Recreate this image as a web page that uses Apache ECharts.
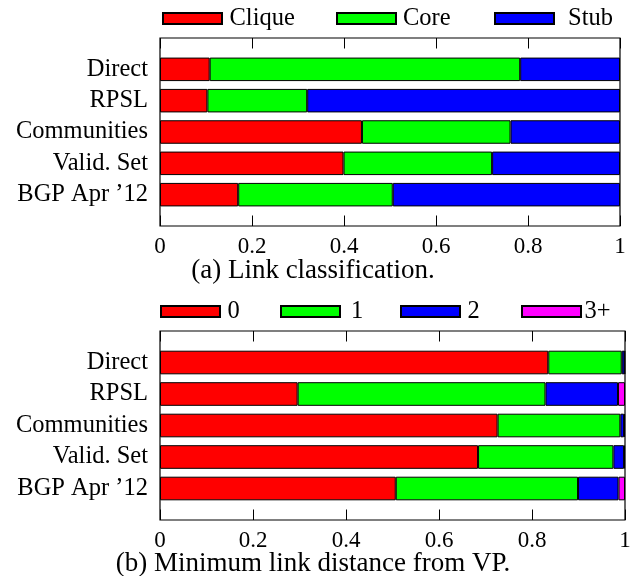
<!DOCTYPE html>
<html>
<head>
<meta charset="utf-8">
<script src="https://cdn.jsdelivr.net/npm/echarts@6/dist/echarts.min.js"></script>
<style>
  html, body { margin: 0; padding: 0; background: #fff; }
  #chart { width: 635px; height: 576px; }
</style>
</head>
<body>
<div id="chart"></div>
<script>
// ---- data ----
const categories = ['Direct', 'RPSL', 'Communities', 'Valid. Set', 'BGP Apr \u201912'];
const xTicks = [0, 0.2, 0.4, 0.6, 0.8, 1];

// (a) Link classification (segment fractions)
const clique = [0.108, 0.103, 0.439, 0.399, 0.170];
const core   = [0.675, 0.217, 0.323, 0.323, 0.336];
const stub   = [0.217, 0.680, 0.238, 0.278, 0.494];

// (b) Minimum link distance from VP (segment fractions)
const dist0  = [0.835, 0.296, 0.726, 0.684, 0.507];
const dist1  = [0.158, 0.533, 0.264, 0.291, 0.392];
const dist2  = [0.006, 0.156, 0.008, 0.023, 0.087];
const dist3p = [0.001, 0.015, 0.002, 0.002, 0.014];

const captionA = '(a) Link classification.';
const captionB = '(b) Minimum link distance from VP.';

// ---- build ----
const FONT = 'Liberation Serif';
const padCats = [''].concat(categories, ['']);
const pad = arr => [null].concat(arr, [null]);

function xAxisPair(gridIndex) {
  const base = {
    type: 'value', gridIndex: gridIndex,
    min: xTicks[0], max: xTicks[xTicks.length - 1],
    interval: xTicks[1] - xTicks[0],
    splitLine: { show: false },
    axisLine: { show: false },
    axisTick: { show: true, inside: true, length: 10.5, lineStyle: { color: '#000', width: 1 } }
  };
  return [
    Object.assign({}, base, {
      position: 'bottom',
      axisLabel: { show: true, color: '#000', fontFamily: FONT, fontSize: 23, margin: 9 }
    }),
    Object.assign({}, base, {
      position: 'top',
      axisLabel: { show: false }
    })
  ];
}

function yAxisFor(gridIndex) {
  return {
    type: 'category', gridIndex: gridIndex, data: padCats, inverse: true,
    boundaryGap: false,
    axisLine: { show: false },
    axisTick: { show: false },
    splitLine: { show: false },
    axisLabel: { color: '#000', fontFamily: FONT, fontSize: 24.5, margin: 12, interval: 0 }
  };
}

function barSeries(name, values, color, xi, yi, stack) {
  return {
    name: name, type: 'bar', stack: stack,
    xAxisIndex: xi, yAxisIndex: yi,
    data: pad(values), barWidth: '75%',
    itemStyle: { color: color, borderColor: '#000', borderWidth: 1 },
    emphasis: { disabled: true }
  };
}

function legendItem(name, left, top, gap) {
  return {
    data: [name], left: left, top: top, padding: 0,
    icon: 'rect', itemWidth: 59, itemHeight: 11,
    selectedMode: false,
    textStyle: { color: '#000', fontFamily: FONT, fontSize: 24.5, padding: [0, 0, 0, gap - 5] }
  };
}

const option = {
  animation: false,
  backgroundColor: '#fff',
  grid: [
    { left: 160, top: 38, width: 460, height: 188, show: true, borderColor: '#000', borderWidth: 1.2, backgroundColor: 'transparent' },
    { left: 160, top: 331, width: 465, height: 189, show: true, borderColor: '#000', borderWidth: 1.2, backgroundColor: 'transparent' }
  ],
  xAxis: xAxisPair(0).concat(xAxisPair(1)),
  yAxis: [yAxisFor(0), yAxisFor(1)],
  legend: [
    legendItem('Clique', 162, 6, 7.5),
    legendItem('Core', 336, 6, 7),
    legendItem('Stub', 494, 6, 14),
    legendItem('0', 160, 299, 7.5),
    legendItem('1', 280, 299, 11),
    legendItem('2', 400, 299, 7.5),
    legendItem('3+', 521, 299, 3.5)
  ],
  title: [
    { text: captionA, left: 313, top: 257.5, textAlign: 'center', padding: 0,
      textStyle: { color: '#000', fontFamily: FONT, fontSize: 27, fontWeight: 'normal' } },
    { text: captionB, left: 313, top: 550.5, textAlign: 'center', padding: 0,
      textStyle: { color: '#000', fontFamily: FONT, fontSize: 27, fontWeight: 'normal' } }
  ],
  series: [
    barSeries('Clique', clique, '#ff0000', 0, 0, 'a'),
    barSeries('Core',   core,   '#00ff00', 0, 0, 'a'),
    barSeries('Stub',   stub,   '#0000ff', 0, 0, 'a'),
    barSeries('0',  dist0,  '#ff0000', 2, 1, 'b'),
    barSeries('1',  dist1,  '#00ff00', 2, 1, 'b'),
    barSeries('2',  dist2,  '#0000ff', 2, 1, 'b'),
    barSeries('3+', dist3p, '#ff00ff', 2, 1, 'b')
  ]
};

const chart = echarts.init(document.getElementById('chart'), null, { renderer: 'canvas' });
chart.setOption(option);
</script>
</body>
</html>
